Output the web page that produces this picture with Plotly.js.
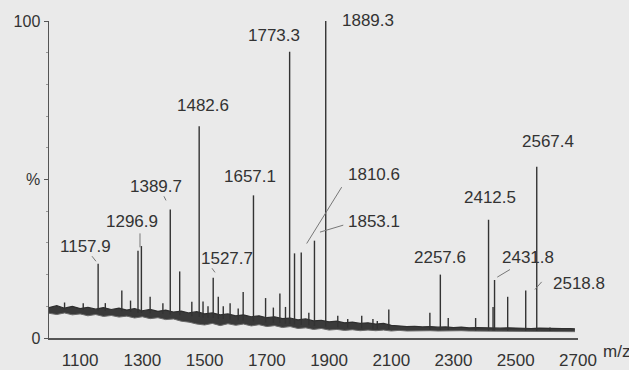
<!DOCTYPE html>
<html>
<head>
<meta charset="utf-8">
<script src="https://cdn.plot.ly/plotly-3.0.1.min.js"></script>
<style>
html,body{margin:0;padding:0;background:#eaeaea;}
#chart{width:629px;height:370px;}
</style>
</head>
<body>
<div id="chart"></div>
<script>
// ---- data ----
// baseline noise band (m/z, upper edge %, lower edge %)
var baseX  = [1000,1025,1050,1075,1100,1125,1150,1175,1200,1225,1250,1275,1300,1325,1350,1375,1400,1425,1450,1475,1500,1525,1550,1575,1600,1625,1650,1675,1700,1725,1750,1775,1800,1825,1850,1875,1900,1925,1950,1975,2000,2025,2050,2075,2100,2125,2150,2175,2200,2225,2250,2275,2300,2325,2350,2375,2400,2425,2450,2475,2500,2525,2550,2575,2600,2625,2650,2675,2690];
var baseHi = [9.6,10.2,9.4,10.0,9.3,9.7,9.1,9.6,9.0,9.4,8.8,9.3,8.6,9.0,8.4,8.8,8.2,8.5,7.9,8.3,7.6,7.9,7.3,7.6,7.0,7.3,6.7,7.0,6.4,6.7,6.1,6.3,5.7,6.0,5.4,5.6,5.1,5.3,4.8,5.0,4.6,4.8,4.4,4.6,4.0,3.8,3.6,3.7,3.5,3.6,3.4,3.5,3.3,3.4,3.2,3.3,3.2,3.3,3.1,3.2,3.1,3.2,3.0,3.1,3.0,3.1,3.0,3.0,2.9];
var baseLo = [7.8,7.4,7.9,7.3,7.6,7.0,7.4,6.8,7.1,6.6,6.9,6.3,6.7,6.1,6.4,5.8,6.0,5.3,5.0,4.4,4.1,4.6,3.9,4.5,4.0,4.4,3.8,4.2,3.6,3.9,3.3,3.6,3.0,3.2,2.7,3.0,2.5,2.7,2.4,2.6,2.3,2.5,2.3,2.5,2.2,2.4,2.2,2.3,2.2,2.3,2.2,2.3,2.2,2.3,2.2,2.2,2.1,2.2,2.1,2.2,2.1,2.1,2.0,2.1,2.0,2.1,2.0,2.0,2.0];

// peaks (m/z, top %, foot %)
var peakMz   = [1050,1110,1157.9,1181,1234,1262,1286,1296.9,1325,1366,1389.7,1420,1459,1482.6,1495,1511,1527.7,1544,1560,1582,1608,1624,1657.1,1696,1721,1742,1760,1773.3,1789,1810.6,1835,1853.1,1889.3,1928,1960,2005,2041,2055,2092,2224,2257.6,2283,2371,2412.5,2427,2431.8,2474,2532,2567.4,2610];
var peakInt  = [11.2,11.0,23.4,11.0,15.0,11.8,27.5,29.0,13.0,11.0,40.5,21.0,11.4,66.8,11.5,10.0,19.0,13.0,10.0,11.0,9.3,14.5,45.0,12.6,9.6,14.0,9.8,90.3,26.7,27.0,8.0,30.7,100,7.0,6.0,7.0,6.0,5.4,9.0,8.0,20.0,6.3,6.3,37.3,9.8,18.3,13.0,15.0,54.0,3.3];
var peakFoot = [9.0,8.8,8.7,8.6,8.4,8.2,8.0,7.9,7.8,7.6,7.4,7.2,6.9,6.6,6.5,6.4,6.3,6.1,6.0,5.8,5.6,5.5,5.2,4.9,4.8,4.7,4.5,4.4,4.3,4.1,4.0,3.8,3.6,3.4,3.3,3.1,3.0,2.9,2.8,2.6,2.6,2.5,2.4,2.4,2.4,2.4,2.3,2.3,2.2,2.2];

// peak labels
var labelText = ["1157.9","1296.9","1389.7","1482.6","1527.7","1657.1","1773.3","1889.3","1810.6","1853.1","2257.6","2412.5","2431.8","2518.8","2567.4"];

// x-axis tick labels
var xTicks = [1100,1300,1500,1700,1900,2100,2300,2500,2700];
var yTickVals = [0,50,100];
var yTickText = ["0","%","100"];

// ---- layout-only positions for label texts (m/z, %, xshift px, yshift px) ----
var labelPos = [
  [1115.7,28.8,0,0],[1265.7,36.6,0,0],[1343.8,47.9,0,0],[1494.9,73.4,0,0],[1573.6,25.0,0,0],
  [1647.5,50.8,0,0],[1723.6,95.5,0,0],[2025.1,99.0,0,4],[2045.0,51.6,0,0],[2045.0,36.9,0,0],
  [2258.0,25.3,0,0],[2418.1,44.2,0,0],[2540.2,25.3,0,0],[2695.0,17.3,3,0],[2602.5,62.1,0,0]
];
var leaders = [
  [1940.6,47.6,1828.1,29.8],[1945.7,35.6,1870.8,33.4],
  [2481.4,21.6,2440.6,19.2],[2583.2,17.7,2561.7,15.3],
  [1292.4,33.0,1292.4,28.6],[1138.2,25.8,1151,24.2],
  [1369.5,44.7,1376,43.4],[1523.8,22.0,1533.4,20.7]
];

// ---- build traces ----
var sx = [], sy = [];
for (var i = 0; i < peakMz.length; i++) {
  sx.push(peakMz[i], peakMz[i], null);
  sy.push(peakFoot[i], peakInt[i], null);
}

var traces = [
  {x: baseX, y: baseLo, mode: 'lines', line: {color: '#6a6a6a', width: 1}, hoverinfo: 'skip', showlegend: false},
  {x: baseX, y: baseHi, mode: 'lines', fill: 'tonexty', fillcolor: '#3a3a3a', line: {color: '#2e2e2e', width: 1.2}, hoverinfo: 'skip', showlegend: false},
  {x: sx, y: sy, mode: 'lines', line: {color: '#333333', width: 1.4}, connectgaps: false, hoverinfo: 'skip', showlegend: false}
];

var annotations = labelText.map(function (t, k) {
  return {x: labelPos[k][0], y: labelPos[k][1], xshift: labelPos[k][2], yshift: labelPos[k][3],
          xref: 'x', yref: 'y', text: t, showarrow: false,
          font: {family: 'Liberation Sans, Arial, sans-serif', size: 17, color: '#333'},
          xanchor: 'center', yanchor: 'middle'};
});
annotations.push({x: 1.0435, y: -0.042, xref: 'paper', yref: 'paper', text: 'm/z', showarrow: false,
  xanchor: 'left', yanchor: 'middle', font: {family: 'Liberation Sans, Arial, sans-serif', size: 17, color: '#333'}});

var shapes = leaders.map(function (s) {
  return {type: 'line', xref: 'x', yref: 'y', x0: s[0], y0: s[1], x1: s[2], y1: s[3],
          line: {color: '#777', width: 1}};
});

var layout = {
  width: 629, height: 370,
  margin: {l: 49, r: 51, t: 21, b: 32, pad: 0},
  paper_bgcolor: '#eaeaea', plot_bgcolor: '#eaeaea',
  font: {family: 'Liberation Sans, Arial, sans-serif', size: 17, color: '#333'},
  showlegend: false,
  xaxis: {
    range: [1000, 2700], showgrid: false, zeroline: false,
    showline: true, linecolor: '#555', linewidth: 1.5,
    tickmode: 'array', tickvals: xTicks, ticktext: xTicks.map(String),
    ticks: '', ticklabelstandoff: 6,
    tickfont: {size: 17, color: '#333'}
  },
  yaxis: {
    range: [0, 100], showgrid: false, zeroline: false,
    showline: true, linecolor: '#555', linewidth: 1.5,
    tickmode: 'array', tickvals: yTickVals, ticktext: yTickText,
    ticks: 'outside', ticklen: 4, tickcolor: '#555', tickwidth: 1,
    minor: {tickmode: 'linear', tick0: 0, dtick: 10, ticks: 'outside', ticklen: 2, tickcolor: '#999'},
    tickfont: {size: 16, color: '#333'}
  },
  annotations: annotations,
  shapes: shapes
};

Plotly.newPlot('chart', traces, layout, {staticPlot: true, displayModeBar: false});
</script>
</body>
</html>
